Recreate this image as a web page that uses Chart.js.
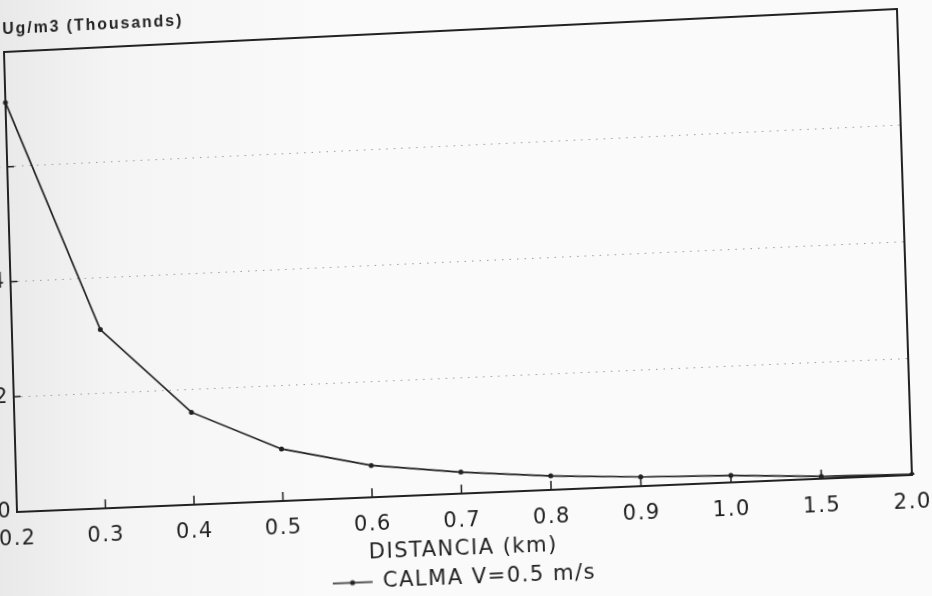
<!DOCTYPE html>
<html>
<head>
<meta charset="utf-8">
<title>Concentración vs distancia</title>
<script src="https://cdn.jsdelivr.net/npm/chart.js@4.4.1/dist/chart.umd.min.js"></script>
<style>
  html, body {
    margin: 0;
    width: 932px;
    height: 596px;
    overflow: hidden;
    background: linear-gradient(to right, #e9e9e9 0px, #f4f4f4 110px, #fafafa 320px);
  }
  #wrap {
    position: absolute;
    left: 0;
    top: 0;
    width: 1052px;
    height: 636px;
    transform-origin: 0 0;
  }
</style>
</head>
<body>
<div id="wrap"><canvas id="grafico" width="1052" height="636"></canvas></div>
<script>
// distancias (km) y concentraciones en miles de ug/m3
const distancias = ["0.2", "0.3", "0.4", "0.5", "0.6", "0.7", "0.8", "0.9", "1.0", "1.5", "2.0"];
const calma = [7.12, 3.1, 1.6, 0.9, 0.55, 0.37, 0.24, 0.16, 0.12, 0.04, 0.01];
const yTicks = [0, 2, 4, 6, 8];

// esquinas de la hoja escaneada (sup-izq, sup-der, inf-der, inf-izq)
const esquinas = [[4, 52], [897, 9], [912, 475], [17, 512]];

const fuente = '"DejaVu Sans", Verdana, sans-serif';
const fuenteTitulo = '"Liberation Sans", Arial, sans-serif';
const tinta = "#222";

// muestra de la leyenda: linea con punto al centro
const muestra = document.createElement("canvas");
muestra.width = 40;
muestra.height = 8;
const m = muestra.getContext("2d");
m.strokeStyle = tinta;
m.lineWidth = 1.5;
m.beginPath();
m.moveTo(0, 4);
m.lineTo(40, 4);
m.stroke();
m.fillStyle = tinta;
m.beginPath();
m.arc(20, 4, 2.5, 0, Math.PI * 2);
m.fill();

// texto un poco espaciado, como en el trazador
const espaciado = {
    id: "espaciado",
    beforeUpdate(chart) { chart.ctx.letterSpacing = "1.5px"; },
    beforeDraw(chart) { chart.ctx.letterSpacing = "1.5px"; }
};

// marco, marcas hacia adentro y titulo de unidades
const marco = {
    id: "marco",
    afterDatasetsDraw(chart) {
        const { ctx, chartArea: a, scales: { x, y } } = chart;
        ctx.save();
        ctx.strokeStyle = tinta;
        ctx.lineWidth = 2;
        ctx.strokeRect(a.left, a.top, a.right - a.left, a.bottom - a.top);
        ctx.lineWidth = 1.5;
        ctx.beginPath();
        x.ticks.forEach((t, i) => {
            const px = x.getPixelForTick(i);
            ctx.moveTo(px, a.bottom);
            ctx.lineTo(px, a.bottom - 9);
        });
        y.ticks.forEach((t, i) => {
            const py = y.getPixelForTick(i);
            ctx.moveTo(a.left, py);
            ctx.lineTo(a.left + 7, py);
        });
        ctx.stroke();
        ctx.letterSpacing = "2px";
        ctx.font = "bold 16px " + fuenteTitulo;
        ctx.fillStyle = tinta;
        ctx.textBaseline = "middle";
        ctx.textAlign = "left";
        ctx.fillText("Ug/m3 (Thousands)", a.left - 1, a.top - 22);
        ctx.restore();
    }
};

// homografia que lleva el rectangulo del grafico a las esquinas de la hoja
function homografia(src, dst) {
    const A = [];
    const b = [];
    for (let i = 0; i < 4; i++) {
        const [x, y] = src[i];
        const [u, v] = dst[i];
        A.push([x, y, 1, 0, 0, 0, -u * x, -u * y]);
        b.push(u);
        A.push([0, 0, 0, x, y, 1, -v * x, -v * y]);
        b.push(v);
    }
    for (let c = 0; c < 8; c++) {
        let p = c;
        for (let r = c + 1; r < 8; r++) if (Math.abs(A[r][c]) > Math.abs(A[p][c])) p = r;
        [A[c], A[p]] = [A[p], A[c]];
        [b[c], b[p]] = [b[p], b[c]];
        for (let r = 0; r < 8; r++) {
            if (r === c) continue;
            const f = A[r][c] / A[c][c];
            for (let k = c; k < 8; k++) A[r][k] -= f * A[c][k];
            b[r] -= f * b[c];
        }
    }
    return b.map((val, i) => val / A[i][i]);
}

const grafico = new Chart(document.getElementById("grafico"), {
    type: "line",
    data: {
        labels: distancias,
        datasets: [
            {
                label: "CALMA V=0.5 m/s",
                data: calma,
                borderColor: tinta,
                backgroundColor: tinta,
                borderWidth: 1.7,
                pointRadius: 2.5,
                pointBackgroundColor: tinta,
                pointBorderWidth: 0,
                tension: 0,
            },
        ],
    },
    options: {
        responsive: false,
        animation: false,
        layout: {
            padding: { left: 31, right: 86, top: 48, bottom: 20 },
        },
        scales: {
            x: {
                offset: false,
                grid: { display: false, drawTicks: false },
                border: { display: false },
                ticks: {
                    color: tinta,
                    padding: 15,
                    maxRotation: 0,
                    autoSkip: false,
                    font: { family: fuente, size: 21 },
                },
                title: {
                    display: true,
                    text: "DISTANCIA (km)",
                    color: tinta,
                    padding: { top: 0, bottom: 1 },
                    font: { family: fuente, size: 21 },
                },
                afterFit(scale) { scale.height = 69; },
            },
            y: {
                min: 0,
                max: 8,
                afterBuildTicks(scale) {
                    scale.ticks = yTicks.map((v) => ({ value: v }));
                },
                afterFit(scale) { scale.width = 40; },
                grid: {
                    drawTicks: false,
                    lineWidth: 1,
                    color: (c) => (c.tick && c.tick.value > 0 && c.tick.value < 8 ? "#9a9a9a" : "rgba(0,0,0,0)"),
                },
                border: { display: false, dash: [1.5, 6] },
                ticks: {
                    color: tinta,
                    padding: 5,
                    font: { family: fuente, size: 21 },
                },
            },
        },
        plugins: {
            legend: {
                position: "bottom",
                fullSize: false,
                labels: {
                    usePointStyle: true,
                    pointStyle: muestra,
                    pointStyleWidth: 40,
                    padding: 5,
                    color: tinta,
                    font: { family: fuente, size: 21 },
                },
            },
            tooltip: { enabled: false },
        },
    },
    plugins: [espaciado, marco],
});

const a = grafico.chartArea;
const [h0, h1, h2, h3, h4, h5, h6, h7] = homografia(
    [[a.left, a.top], [a.right, a.top], [a.right, a.bottom], [a.left, a.bottom]],
    esquinas
);
document.getElementById("wrap").style.transform =
    `matrix3d(${h0},${h3},0,${h6},${h1},${h4},0,${h7},0,0,1,0,${h2},${h5},0,1)`;
</script>
</body>
</html>
